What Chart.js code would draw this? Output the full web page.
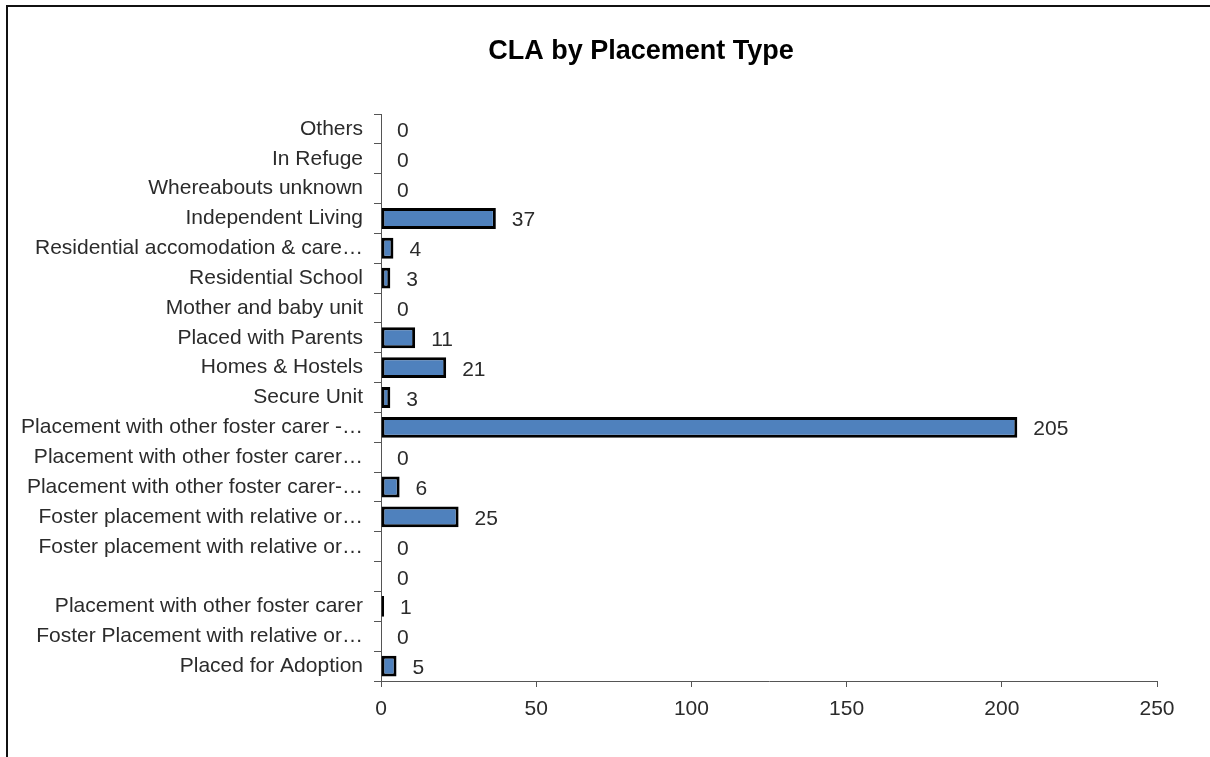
<!DOCTYPE html>
<html>
<head>
<meta charset="utf-8">
<script src="https://cdn.jsdelivr.net/npm/chart.js@4/dist/chart.umd.min.js"></script>
<style>
  html, body { margin: 0; padding: 0; background: #fff; }
  #wrap { position: relative; width: 1210px; height: 757px; overflow: hidden; }
  #frame { position: absolute; left: 6px; top: 5px; width: 1300px; height: 900px; border: 2px solid #111; box-sizing: border-box; pointer-events: none; }
  canvas { position: absolute; left: 0; top: 0; }
</style>
</head>
<body>
<div id="wrap">
  <canvas id="c" width="1210" height="757"></canvas>
  <div id="frame"></div>
</div>
<script>
const chartTitle = "CLA by Placement Type";
const categories = [
  "Others",
  "In Refuge",
  "Whereabouts unknown",
  "Independent Living",
  "Residential accomodation & care…",
  "Residential School",
  "Mother and baby unit",
  "Placed with Parents",
  "Homes & Hostels",
  "Secure Unit",
  "Placement with other foster carer -…",
  "Placement with other foster carer…",
  "Placement with other foster carer-…",
  "Foster placement with relative or…",
  "Foster placement with relative or…",
  "",
  "Placement with other foster carer",
  "Foster Placement with relative or…",
  "Placed for Adoption"
];
const counts = [0, 0, 0, 37, 4, 3, 0, 11, 21, 3, 205, 0, 6, 25, 0, 0, 1, 0, 5];
const xTicks = [0, 50, 100, 150, 200, 250];

const FONT = "'Liberation Sans', Arial, sans-serif";
const TEXT = "#2b2b2b";
const AXIS = "#555555";

const titlePlugin = {
  id: 'drawTitle',
  afterDraw(chart) {
    const ctx = chart.ctx;
    ctx.save();
    ctx.font = "bold 27px " + FONT;
    ctx.fillStyle = "#000";
    ctx.textAlign = "center";
    ctx.textBaseline = "alphabetic";
    ctx.fillText(chartTitle, 641, 59);
    ctx.restore();
  }
};

const valueLabels = {
  id: 'valueLabels',
  afterDatasetsDraw(chart) {
    const ctx = chart.ctx;
    const meta = chart.getDatasetMeta(0);
    ctx.save();
    ctx.font = "21px " + FONT;
    ctx.fillStyle = TEXT;
    ctx.textAlign = "left";
    ctx.textBaseline = "alphabetic";
    meta.data.forEach((bar, i) => {
      const v = chart.data.datasets[0].data[i];
      ctx.fillText(String(v), bar.x + 16, bar.y + 8);
    });
    ctx.restore();
  }
};

new Chart(document.getElementById('c'), {
  type: 'bar',
  data: {
    labels: categories,
    datasets: [{
      data: counts,
      backgroundColor: '#4F81BD',
      borderColor: '#000000',
      borderWidth: 3,
      borderSkipped: false,
      barPercentage: 0.7,
      categoryPercentage: 1.0
    }]
  },
  options: {
    indexAxis: 'y',
    responsive: false,
    animation: false,
    devicePixelRatio: 1,
    layout: { padding: { left: 0, right: 53, top: 114, bottom: 0 } },
    plugins: {
      legend: { display: false },
      title: { display: false },
      tooltip: { enabled: false }
    },
    scales: {
      x: {
        type: 'linear',
        min: 0,
        max: 250,
        afterBuildTicks(scale) { scale.ticks = xTicks.map(v => ({ value: v })); },
        afterFit(scale) { scale.height = 76; },
        border: { display: true, color: AXIS, width: 1 },
        grid: { display: true, drawOnChartArea: false, drawTicks: true, tickLength: 6, color: AXIS },
        ticks: { color: TEXT, font: { family: FONT, size: 21 }, padding: 10, maxRotation: 0 }
      },
      y: {
        type: 'category',
        offset: true,
        afterFit(scale) { scale.width = 381; },
        border: { display: true, color: AXIS, width: 1 },
        grid: { display: true, offset: true, drawOnChartArea: false, drawTicks: true, tickLength: 7, color: AXIS },
        ticks: { color: TEXT, font: { family: FONT, size: 21 }, padding: 11, autoSkip: false }
      }
    }
  },
  plugins: [titlePlugin, valueLabels]
});
</script>
</body>
</html>
